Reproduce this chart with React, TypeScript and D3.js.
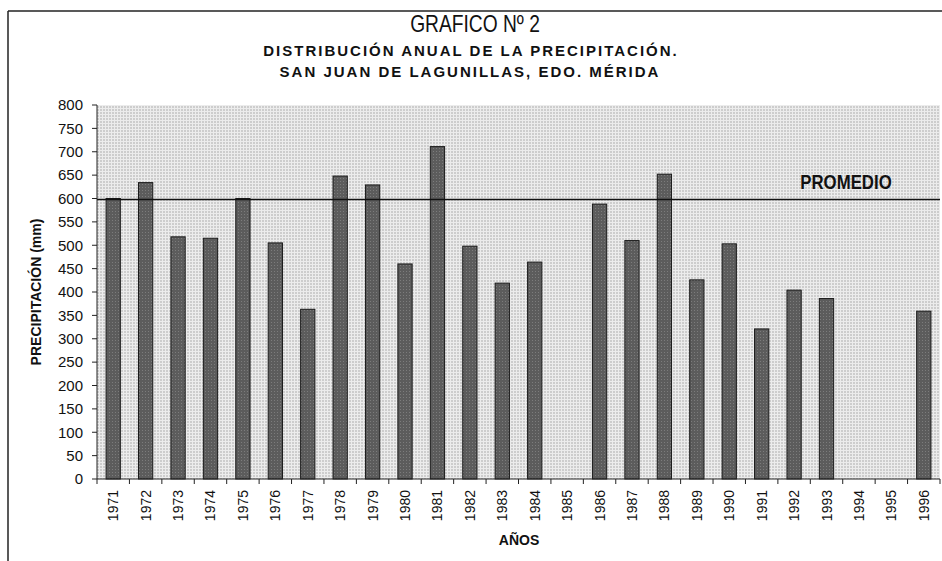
import React from "react";
import * as d3 from "d3";

const YEARS = [
  "1971", "1972", "1973", "1974", "1975", "1976", "1977", "1978", "1979",
  "1980", "1981", "1982", "1983", "1984", "1985", "1986", "1987", "1988",
  "1989", "1990", "1991", "1992", "1993", "1994", "1995", "1996",
];
// null = sin dato
const PRECIP = [
  600, 634, 518, 515, 600, 505, 363, 648, 629,
  460, 711, 498, 419, 464, null, 588, 510, 652,
  426, 503, 321, 404, 386, null, null, 359,
];
const PROMEDIO = 598;
const Y_TICKS = [0, 50, 100, 150, 200, 250, 300, 350, 400, 450, 500, 550, 600, 650, 700, 750, 800];

const W = 942;
const H = 561;
const LEFT = 97;
const RIGHT = 940;
const TOP = 105;
const BOTTOM = 479;

const SANS = "'Liberation Sans', Arial, Helvetica, sans-serif";

export default function App() {
  const x = d3.scaleBand().domain(YEARS).range([LEFT, RIGHT]).padding(0);
  const y = d3.scaleLinear().domain([0, 800]).range([BOTTOM, TOP]);
  const barW = x.bandwidth() * 0.44;

  const bars = YEARS.map((yr, i) => {
    const v = PRECIP[i];
    if (v == null) return null;
    const cx = (x(yr) || 0) + x.bandwidth() / 2;
    return (
      <rect
        key={yr}
        x={cx - barW / 2}
        y={y(v)}
        width={barW}
        height={y(0) - y(v)}
        fill="url(#barTex)"
        stroke="#1a1a1a"
        strokeWidth={1}
      />
    );
  });

  // tick marks between categories
  const xTickPos = YEARS.map((yr) => x(yr) || 0).concat([RIGHT]);

  return (
    <svg width={W} height={H} style={{ position: "absolute", left: 0, top: 0, background: "#fff" }}>
      <defs>
        <pattern id="bgTex" width="3" height="3" patternUnits="userSpaceOnUse">
          <rect width="3" height="3" fill="#cdcdcd" />
          <rect x="0" y="0" width="3" height="1" fill="#ececec" />
          <rect x="0" y="0" width="1" height="3" fill="#ececec" />
        </pattern>
        <pattern id="barTex" width="3" height="3" patternUnits="userSpaceOnUse">
          <rect width="3" height="3" fill="#5c5c5c" />
          <rect x="1" y="1" width="1" height="1" fill="#7c7c7c" />
        </pattern>
      </defs>

      {/* frame */}
      <line x1={8} x2={W} y1={11} y2={11} stroke="#222" strokeWidth={1.5} />
      <line x1={8} x2={8} y1={11} y2={H} stroke="#222" strokeWidth={1.5} />

      {/* titles */}
      <text transform="translate(475,32) scale(0.8,1)" textAnchor="middle" fontFamily={SANS} fontSize={24} fill="#111">
        GRAFICO Nº 2
      </text>
      <text x={471} y={56} textAnchor="middle" fontFamily={SANS} fontWeight="bold" fontSize={15} letterSpacing={2} fill="#111">
        DISTRIBUCIÓN ANUAL DE LA PRECIPITACIÓN.
      </text>
      <text x={470} y={77} textAnchor="middle" fontFamily={SANS} fontWeight="bold" fontSize={15} letterSpacing={2} fill="#111">
        SAN JUAN DE LAGUNILLAS, EDO. MÉRIDA
      </text>

      {/* plot area */}
      <rect x={LEFT} y={TOP} width={RIGHT - LEFT} height={BOTTOM - TOP} fill="url(#bgTex)" />
      {bars}

      {/* average line */}
      <line x1={LEFT} x2={RIGHT} y1={y(PROMEDIO)} y2={y(PROMEDIO)} stroke="#111" strokeWidth={1.6} />
      <text
        transform={`translate(846,${y(PROMEDIO) - 10}) scale(0.84,1)`}
        textAnchor="middle"
        fontFamily={SANS}
        fontWeight="bold"
        fontSize={20}
        fill="#111"
      >
        PROMEDIO
      </text>

      {/* y axis */}
      <line x1={LEFT} x2={LEFT} y1={TOP} y2={BOTTOM} stroke="#222" strokeWidth={1} />
      {Y_TICKS.map((t) => (
        <g key={t} transform={`translate(0,${y(t)})`}>
          <line x1={LEFT - 5} x2={LEFT} stroke="#222" strokeWidth={1} />
          <text x={LEFT - 14} dy="0.35em" textAnchor="end" fontFamily={SANS} fontSize={15} fill="#111">
            {t}
          </text>
        </g>
      ))}
      <text
        transform={`translate(41,${292}) rotate(-90)`}
        textAnchor="middle"
        fontFamily={SANS}
        fontWeight="bold"
        fontSize={14}
        fill="#111"
      >
        PRECIPITACIÓN (mm)
      </text>

      {/* x axis */}
      <line x1={LEFT} x2={RIGHT} y1={BOTTOM} y2={BOTTOM} stroke="#222" strokeWidth={1} />
      {xTickPos.map((px, i) => (
        <line key={i} x1={px} x2={px} y1={BOTTOM} y2={BOTTOM + 5} stroke="#222" strokeWidth={1} />
      ))}
      {YEARS.map((yr) => (
        <text
          key={yr}
          transform={`translate(${(x(yr) || 0) + x.bandwidth() / 2 + 5},${490}) rotate(-90)`}
          textAnchor="end"
          fontFamily={SANS}
          fontSize={14}
          fill="#111"
        >
          {yr}
        </text>
      ))}
      <text x={519} y={545} textAnchor="middle" fontFamily={SANS} fontWeight="bold" fontSize={14} fill="#111">
        AÑOS
      </text>
    </svg>
  );
}
